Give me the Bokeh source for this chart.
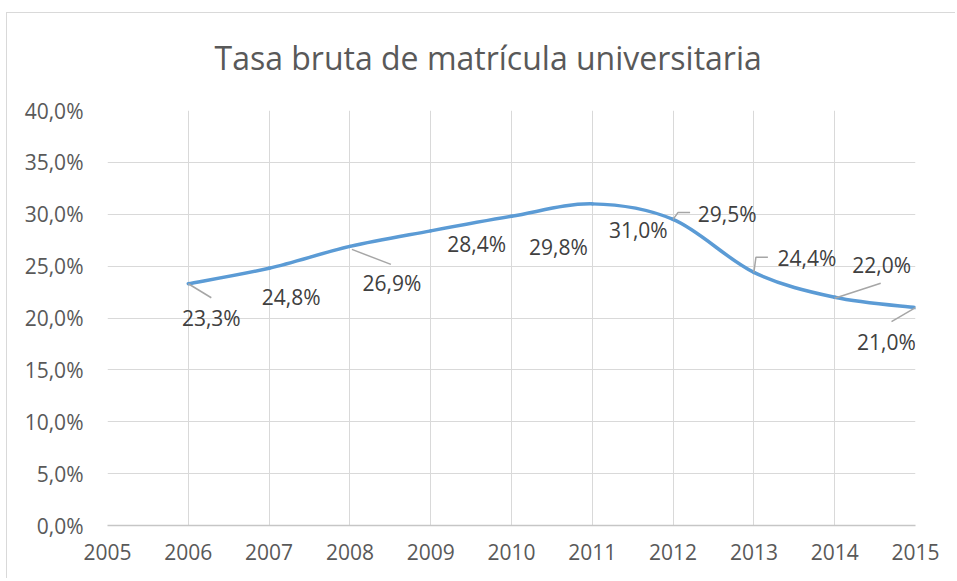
from bokeh.plotting import figure
from bokeh.models import Range1d, FixedTicker, ColumnDataSource
from bokeh.core.properties import value
from bokeh.embed import file_html
from bokeh.resources import INLINE

# ---------------- data ----------------
title_text = "Tasa bruta de matrícula universitaria"
years = [2006, 2007, 2008, 2009, 2010, 2011, 2012, 2013, 2014, 2015]
rates = [23.3, 24.8, 26.9, 28.4, 29.8, 31.0, 29.5, 24.4, 22.0, 21.0]
rate_labels = ["23,3%", "24,8%", "26,9%", "28,4%", "29,8%",
               "31,0%", "29,5%", "24,4%", "22,0%", "21,0%"]
x_ticks = [2005, 2006, 2007, 2008, 2009, 2010, 2011, 2012, 2013, 2014, 2015]
y_ticks = [0, 5, 10, 15, 20, 25, 30, 35, 40]
y_tick_labels = ["0,0%", "5,0%", "10,0%", "15,0%", "20,0%",
                 "25,0%", "30,0%", "35,0%", "40,0%"]

# ---------------- styles / layout ----------------
FONT = "Open Sans"
W, H = 955, 578
B_LEFT, B_RIGHT, B_TOP, B_BOTTOM = 107, 40, 110, 53
FRAME_W = W - B_LEFT - B_RIGHT
FRAME_H = H - B_TOP - B_BOTTOM
X0, X1 = x_ticks[0], x_ticks[-1]
Y0, Y1 = y_ticks[0], y_ticks[-1]
PX_X = FRAME_W / (X1 - X0)
PX_Y = FRAME_H / (Y1 - Y0)

# label offsets in screen pixels (y down)
label_dx = [23, 22, 42, 46, 47, 46, 54, 53, 47, -29]
label_dy = [34, 29, 37, 13, 31, 26, -5, -14, -32, 34]
# leader lines in screen pixel offsets from the point (y down)
leaders = {
    0: [(0, 0), (23, 14)],
    2: [(2, 3), (41, 18)],
    6: [(0, 0), (5, -7), (17, -7)],
    7: [(0, 0), (2, -15), (14, -15)],
    8: [(0, 1), (46, -14)],
    9: [(0, 0), (-24, 14)],
}

border_css = ("linear-gradient(#d9d9d9,#d9d9d9) 6px 12px / 1px 100% no-repeat, "
              "linear-gradient(#d9d9d9,#d9d9d9) 6px 12px / 100% 1px no-repeat, white")

p = figure(width=W, height=H, output_backend="svg", toolbar_location=None,
           x_range=Range1d(X0, X1), y_range=Range1d(Y0, Y1),
           min_border_left=B_LEFT, min_border_right=B_RIGHT,
           min_border_top=B_TOP, min_border_bottom=B_BOTTOM,
           styles={"background": border_css})
p.outline_line_color = None
p.background_fill_color = "white"
p.border_fill_color = None

# title
p.title.text = title_text
p.title.align = "left"
p.title.offset = 107
p.title.standoff = 64
p.title.text_font = FONT
p.title.text_font_size = "32px"
p.title.text_font_style = "normal"
p.title.text_color = "#595959"

# grids
p.xgrid.ticker = FixedTicker(ticks=x_ticks)
p.ygrid.ticker = FixedTicker(ticks=y_ticks)
for g in (p.xgrid, p.ygrid):
    g.grid_line_color = "#d9d9d9"
    g.grid_line_width = 1

# axes
p.xaxis.ticker = FixedTicker(ticks=x_ticks)
p.yaxis.ticker = FixedTicker(ticks=y_ticks)
p.yaxis.major_label_overrides = {t: l for t, l in zip(y_ticks, y_tick_labels)}
for ax in (p.xaxis, p.yaxis):
    ax.major_tick_line_color = None
    ax.minor_tick_line_color = None
    ax.major_tick_out = 0
    ax.major_tick_in = 0
    ax.major_label_text_font = FONT
    ax.major_label_text_font_size = "21px"
    ax.major_label_text_color = "#595959"
p.xaxis.axis_line_color = "#c6c6c6"
p.xaxis.axis_line_width = 1.5
p.yaxis.axis_line_color = None
p.xaxis.major_label_standoff = 18
p.yaxis.major_label_standoff = 24

# smooth line (Bezier segments, Catmull-Rom style control points)
n = len(years)
ext_x = [years[0]] + years + [years[-1]]
ext_y = [rates[0]] + rates + [rates[-1]]
seg = dict(x0=[], y0=[], x1=[], y1=[], cx0=[], cy0=[], cx1=[], cy1=[])
for i in range(n - 1):
    j = i + 1
    seg["x0"].append(ext_x[j]); seg["y0"].append(ext_y[j])
    seg["x1"].append(ext_x[j + 1]); seg["y1"].append(ext_y[j + 1])
    seg["cx0"].append(ext_x[j] + (ext_x[j + 1] - ext_x[j - 1]) / 6)
    seg["cy0"].append(ext_y[j] + (ext_y[j + 1] - ext_y[j - 1]) / 6)
    seg["cx1"].append(ext_x[j + 1] - (ext_x[j + 2] - ext_x[j]) / 6)
    seg["cy1"].append(ext_y[j + 1] - (ext_y[j + 2] - ext_y[j]) / 6)
p.bezier(x0="x0", y0="y0", x1="x1", y1="y1", cx0="cx0", cy0="cy0",
         cx1="cx1", cy1="cy1", source=ColumnDataSource(seg),
         line_color="#5b9bd5", line_width=3.5, line_cap="round")

# leader lines
lxs, lys = [], []
for i, pts in leaders.items():
    lxs.append([years[i] + dx / PX_X for dx, dy in pts])
    lys.append([rates[i] - dy / PX_Y for dx, dy in pts])
p.multi_line(xs=lxs, ys=lys, line_color="#a6a6a6", line_width=1.5)

# data labels
src = ColumnDataSource(dict(x=years, y=rates, t=rate_labels, dx=label_dx, dy=label_dy))
p.text(x="x", y="y", text="t", source=src, x_offset="dx", y_offset="dy",
       text_font=value(FONT), text_font_size="21px", text_color="#404040",
       text_align="center", text_baseline="middle")

open("out.html", "w").write(file_html(p, INLINE))
